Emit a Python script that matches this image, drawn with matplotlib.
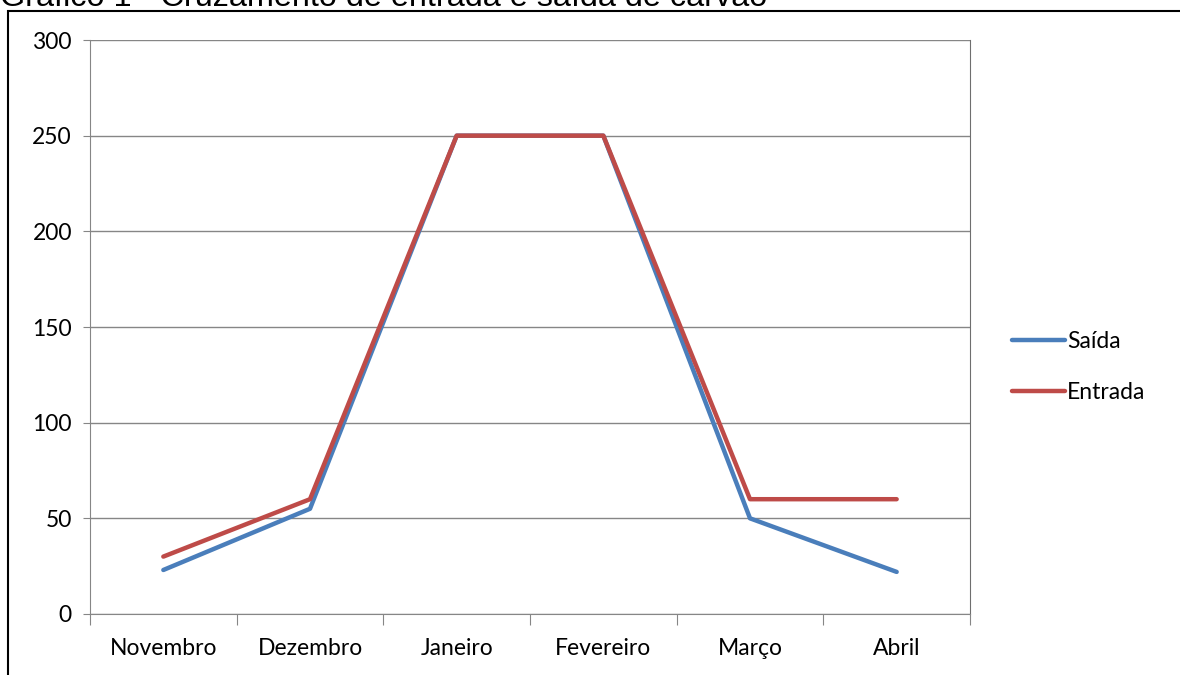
import matplotlib.pyplot as plt
from matplotlib.patches import Rectangle

meses = ['Novembro', 'Dezembro', 'Janeiro', 'Fevereiro', 'Março', 'Abril']
saida = [23, 55, 250, 250, 50, 22]
entrada = [30, 60, 250, 250, 60, 60]
y_ticks = [0, 50, 100, 150, 200, 250, 300]

fig = plt.figure(figsize=(11.8, 6.75), dpi=100)
W, H = 1180, 675

# outer frame of the figure box
fig.patches.append(Rectangle((8 / W, -0.1), 1.2, 1 - 11 / H + 0.1,
                             transform=fig.transFigure, fill=False,
                             edgecolor='black', linewidth=1.5))
fig.text(0 / W, 1 - 6.5 / H, 'Gráfico 1 - Cruzamento de entrada e saída de carvão',
         fontsize=23.3, family='Liberation Sans', va='baseline', ha='left')

ax = fig.add_axes([90 / W, 61 / H, 880 / W, 574 / H])
x = list(range(len(meses)))
ax.plot(x, saida, color='#4a7ebb', linewidth=3.2, label='Saída', solid_capstyle='round')
ax.plot(x, entrada, color='#be4b48', linewidth=3.2, label='Entrada', solid_capstyle='round')

ax.set_xlim(-0.5, len(meses) - 0.5)
ax.set_ylim(0, 300)
ax.set_yticks(y_ticks)
ax.set_yticklabels([str(v) for v in y_ticks], family='Lato', fontsize=16.5)
ax.yaxis.grid(True, color='#868686', linewidth=1)
ax.set_axisbelow(True)

ax.set_xticks([i - 0.5 for i in range(len(meses) + 1)])
ax.set_xticklabels([])
ax.set_xticks(x, minor=True)
ax.set_xticklabels(meses, minor=True, family='Lato', fontsize=16.5)
ax.tick_params(axis='x', which='major', length=8, color='#868686', direction='out')
ax.tick_params(axis='x', which='minor', length=0, pad=17)
ax.tick_params(axis='y', length=5, color='#868686', pad=8)

for side in ['top', 'bottom', 'left']:
    ax.spines[side].set_color('#868686')
ax.spines['right'].set_color('#6e6e6e')
ax.spines['top'].set_visible(False)

fig.legend(loc='center left', bbox_to_anchor=(1012 / W, 1 - 367 / H),
           frameon=False, prop={'family': 'Lato', 'size': 16.5},
           handlelength=2.3, handletextpad=0.1, labelspacing=1.3,
           borderpad=0, borderaxespad=0)

fig.savefig('out.png', dpi=100)
